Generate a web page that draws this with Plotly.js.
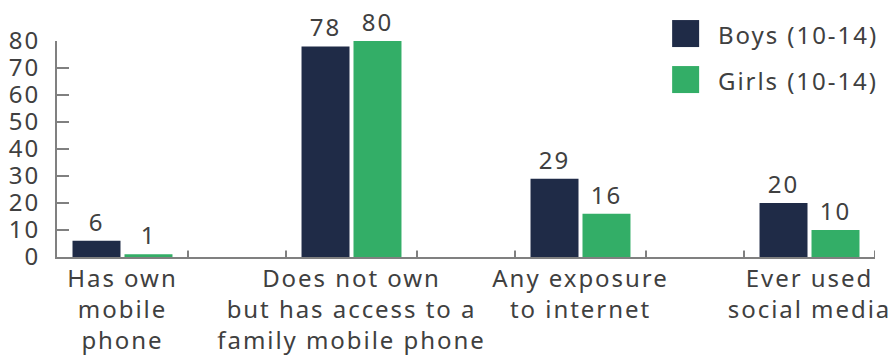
<!DOCTYPE html>
<html>
<head>
<meta charset="utf-8">
<script src="https://cdn.plot.ly/plotly-3.0.1.min.js"></script>
<style>
  html, body { margin: 0; padding: 0; background: #fff; }
  #chart { width: 888px; height: 356px; }
  text { letter-spacing: 1.95px; }
</style>
</head>
<body>
<div id="chart"></div>
<script>
var categories = [
  "Has own<br>mobile<br>phone",
  "Does not own<br>but has access to a<br>family mobile phone",
  "Any exposure<br>to internet",
  "Ever used<br>social media"
];
var boysName = "Boys (10-14)";
var girlsName = "Girls (10-14)";
var boysValues = [6, 78, 29, 20];
var girlsValues = [1, 80, 16, 10];
var yTickValues = [0, 10, 20, 30, 40, 50, 60, 70, 80];

var boysColor = "#1f2b47";
var girlsColor = "#33ae67";
var textColor = "#404040";
var axisColor = "#808080";
var fontFamily = "'Noto Sans', 'Open Sans', sans-serif";
var fontSize = 24;

var traces = [
  {
    type: "bar", name: boysName, x: categories, y: boysValues,
    marker: { color: boysColor },
    text: boysValues.map(String), textposition: "outside",
    textfont: { family: fontFamily, size: fontSize, color: textColor },
    cliponaxis: false, showlegend: false, hoverinfo: "none"
  },
  {
    type: "bar", name: girlsName, x: categories, y: girlsValues,
    marker: { color: girlsColor },
    text: girlsValues.map(String), textposition: "outside",
    textfont: { family: fontFamily, size: fontSize, color: textColor },
    cliponaxis: false, showlegend: false, hoverinfo: "none"
  }
];

// boundary tick marks along the category axis (decoration)
var shapes = [];
var half = 0.286;
for (var i = 0; i < categories.length; i++) {
  [i - half, i + half].forEach(function (xv) {
    if (xv > -half + 0.01) {
      shapes.push({ type: "line", xref: "x", yref: "y", x0: xv, x1: xv, y0: 0, y1: 2.4,
        line: { color: axisColor, width: 2 } });
    }
  });
}

// custom legend
var legendItems = [
  { name: boysName, color: boysColor, y0: 0.972, y1: 1.097, ty: 1.032 },
  { name: girlsName, color: girlsColor, y0: 0.759, y1: 0.884, ty: 0.819 }
];
var annotations = [];
legendItems.forEach(function (it) {
  shapes.push({ type: "rect", xref: "paper", yref: "paper", x0: 0.752, x1: 0.785,
    y0: it.y0, y1: it.y1, fillcolor: it.color, line: { width: 0 } });
  annotations.push({ xref: "paper", yref: "paper", x: 0.806, y: it.ty,
    xanchor: "left", yanchor: "middle", showarrow: false, text: it.name,
    font: { family: fontFamily, size: fontSize, color: textColor } });
});

var layout = {
  width: 888, height: 356,
  margin: { l: 57, r: 13, t: 41, b: 99 },
  paper_bgcolor: "#ffffff", plot_bgcolor: "#ffffff",
  barmode: "group", bargap: 0.546, bargroupgap: 0.077,
  showlegend: false,
  font: { family: fontFamily, size: fontSize, color: textColor },
  xaxis: {
    type: "category", range: [-0.286, 3.286], tickangle: 0,
    showline: true, linecolor: axisColor, linewidth: 2,
    ticks: "", showgrid: false, zeroline: false,
    tickfont: { family: fontFamily, size: fontSize, color: textColor },
    ticklabelstandoff: -1
  },
  yaxis: {
    range: [0, 80], tickmode: "array", tickvals: yTickValues,
    ticks: "inside", ticklen: 12, tickwidth: 2, tickcolor: axisColor,
    showline: true, linecolor: axisColor, linewidth: 2,
    showgrid: false, zeroline: false,
    tickfont: { family: fontFamily, size: fontSize, color: textColor },
    ticklabelstandoff: 10
  },
  shapes: shapes,
  annotations: annotations
};

Plotly.newPlot("chart", traces, layout, { staticPlot: true, displayModeBar: false });
</script>
</body>
</html>
